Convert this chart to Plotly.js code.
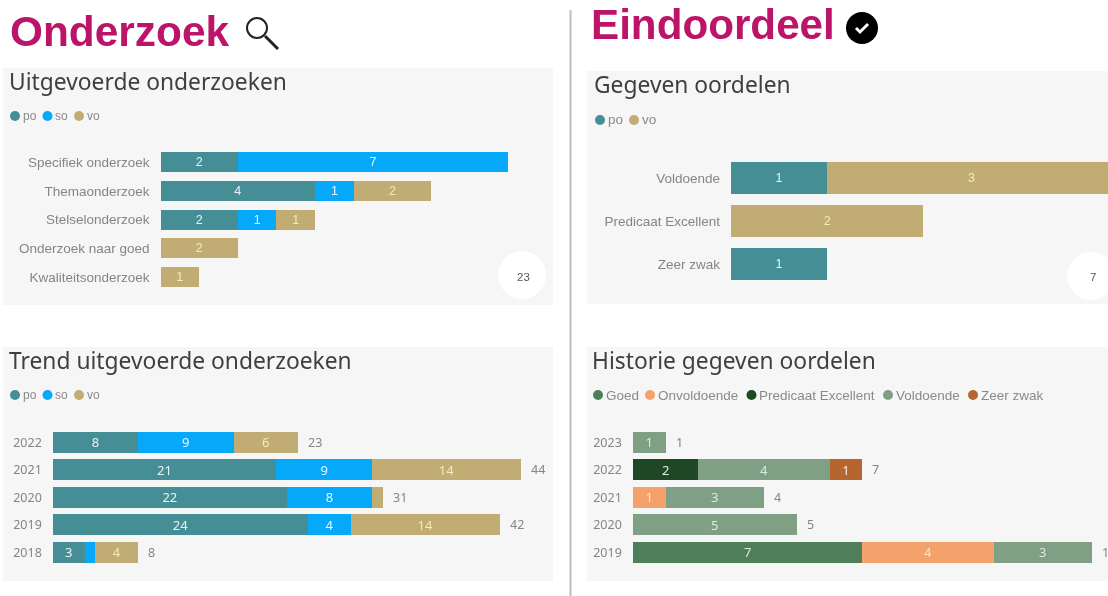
<!DOCTYPE html>
<html>
<head>
<meta charset="utf-8">
<script src="https://cdn.plot.ly/plotly-3.0.1.min.js"></script>
<style>html,body{margin:0;padding:0;background:#fff;overflow:hidden}#chart{width:1108px;height:596px;filter:blur(0.5px)}</style>
</head>
<body>
<div id="chart"></div>
<script>
const W = 1108, H = 596;

// Panel 1: Uitgevoerde onderzoeken
const typeCategories = ["Specifiek onderzoek", "Themaonderzoek", "Stelselonderzoek", "Onderzoek naar goed", "Kwaliteitsonderzoek"];
const typePo = [2, 4, 2, null, null];
const typeSo = [7, 1, 1, null, null];
const typeVo = [null, 2, 1, 2, 1];

// Panel 2: Gegeven oordelen
const verdictCategories = ["Voldoende", "Predicaat Excellent", "Zeer zwak"];
const verdictPo = [1, null, 1];
const verdictVo = [3, 2, null];

// Panel 3: Trend uitgevoerde onderzoeken
const trendYears = ["2022", "2021", "2020", "2019", "2018"];
const trendPo = [8, 21, 22, 24, 3];
const trendSo = [9, 9, 8, 4, 1];
const trendVo = [6, 14, 1, 14, 4];
const trendTotals = [23, 44, 31, 42, 8];

// Panel 4: Historie gegeven oordelen
const historyYears = ["2023", "2022", "2021", "2020", "2019"];
const historyGoed = [null, null, null, null, 7];
const historyOnvoldoende = [null, null, 1, null, 4];
const historyExcellent = [null, 2, null, null, null];
const historyVoldoende = [1, 4, 3, 5, 3];
const historyZeerZwak = [null, 1, null, null, null];
const historyTotals = [1, 7, 4, 5, 14];

const COLORS = {po:"#458E96", so:"#06A9FA", vo:"#C1AC74", Goed:"#4F7F59", Onvoldoende:"#F3A26B",
  "Predicaat Excellent":"#1E4725", Voldoende:"#7FA085", "Zeer zwak":"#B5652F"};
const LABEL = {po:"#E8F3F3", so:"#E8F6FF", vo:"#F6E8C0", Goed:"#DDE8DD", Onvoldoende:"#FBE3C8",
  "Predicaat Excellent":"#E3EDE3", Voldoende:"#DCE9DC", "Zeer zwak":"#FBEBDD"};

const px = x => x / W, py = y => 1 - y / H;
const UI = "'Noto Sans', sans-serif", AR = "'Liberation Sans', Arial, sans-serif";

const panels = [
  {id:"", cats:typeCategories, series:[["po",typePo],["so",typeSo],["vo",typeVo]], x0:160.5, unit:38.65, right:552,
   top:147.6, bottom:291.6, gap:0.31, font:AR, tick:13.5, standoff:10, lab:12.5, minPx:14},
  {id:"2", cats:verdictCategories, series:[["po",verdictPo],["vo",verdictVo]], x0:731, unit:96.2, right:1108,
   top:156.5, bottom:285.5, gap:0.25, font:AR, tick:13.5, standoff:10, lab:12.5, minPx:14},
  {id:"3", cats:trendYears, series:[["po",trendPo],["so",trendSo],["vo",trendVo]], totals:trendTotals, x0:52.8, unit:10.64, right:552,
   top:428.5, bottom:566, gap:0.24, font:UI, tick:12.5, standoff:10, lab:13, minPx:18},
  {id:"4", cats:historyYears, series:[["Goed",historyGoed],["Onvoldoende",historyOnvoldoende],["Predicaat Excellent",historyExcellent],["Voldoende",historyVoldoende],["Zeer zwak",historyZeerZwak]], totals:historyTotals, x0:632.8, unit:32.8, right:1108,
   top:428.5, bottom:566, gap:0.24, font:UI, tick:12.5, standoff:10, lab:13, minPx:18}
];

const traces = [];
const layout = {
  width:W, height:H, margin:{l:0,r:0,t:0,b:0,pad:0}, paper_bgcolor:"#fff", plot_bgcolor:"rgba(0,0,0,0)",
  barmode:"stack", showlegend:false, shapes:[], annotations:[], font:{family:AR,color:"#777"}
};

function note(text, x, y, size, color, family, weight) {
  layout.annotations.push({text, x:px(x), y:py(y), xref:"paper", yref:"paper", xanchor:"left", yanchor:"middle",
    showarrow:false, borderpad:0, font:{size, color, family, weight:weight||400}});
}
function rect(x0,y0,x1,y1,fill){layout.shapes.push({type:"rect",xref:"paper",yref:"paper",x0:px(x0),x1:px(x1),y0:py(y0),y1:py(y1),fillcolor:fill,line:{width:0},layer:"below"});}
function disc(cx,cy,r,fill,line,layer){layout.shapes.push({type:"circle",xref:"paper",yref:"paper",x0:px(cx-r),x1:px(cx+r),y0:py(cy-r),y1:py(cy+r),fillcolor:fill,line:line||{width:0},layer:layer||"below"});}
function seg(x0,y0,x1,y1,color,width){layout.shapes.push({type:"line",xref:"paper",yref:"paper",x0:px(x0),x1:px(x1),y0:py(y0),y1:py(y1),line:{color,width}});}

// panel backgrounds
rect(3,68,553,305,"#F6F6F6");
rect(587,71,1108,304,"#F6F6F6");
rect(3,347,553,581,"#F6F6F6");
rect(587,347,1108,581,"#F6F6F6");

// divider
seg(570.5,10,570.5,596,"#BDBDBD",2);

// section headings and icons
note("Onderzoek",9,31,42.4,"#BB1468",AR,700);
note("Eindoordeel",590,25,42.2,"#BB1468",AR,700);
disc(257,28,10,"rgba(0,0,0,0)",{color:"#222",width:2},"above");
seg(265,36,278,49,"#222",3);
disc(862,28,16,"#000",null,"above");
layout.shapes.push({type:"path",xref:"paper",yref:"paper",
  path:`M ${px(856)} ${py(28)} L ${px(860)} ${py(32)} L ${px(868)} ${py(24)}`,line:{color:"#fff",width:3}});

// panel titles
note("Uitgevoerde onderzoeken",8,82,22.8,"#3F3F3F",UI);
note("Gegeven oordelen",593,85,22.8,"#3F3F3F",UI);
note("Trend uitgevoerde onderzoeken",8,360,22.8,"#3F3F3F",UI);
note("Historie gegeven oordelen",591,360,22.8,"#3F3F3F",UI);

// legends
function legend(names, xs, y, size) {
  names.forEach((n,i)=>{ disc(xs[i],y,5,COLORS[n]); note(n,xs[i]+6.5,y,size,"#8A8A8A",AR); });
}
legend(["po","so","vo"],[15,47.5,79],116,12);
legend(["po","vo"],[600,634],120,13.5);
legend(["po","so","vo"],[15,47.5,79],395,12);
legend(["Goed","Onvoldoende","Predicaat Excellent","Voldoende","Zeer zwak"],[598,650,751.5,888,973],395,13.5);

// total circles
disc(522,275,24,"#fff");
note("23",516,277,11.5,"#555",AR);
disc(1091,276,24,"#fff");
note("7",1089,277,11.5,"#555",AR);

// bars
panels.forEach(p=>{
  const xa="x"+p.id, ya="y"+p.id, n=p.cats.length;
  const xKey="xaxis"+p.id, yKey="yaxis"+p.id;
  layout[xKey]={domain:[px(p.x0),px(p.right)],range:[0,(p.right-p.x0)/p.unit],anchor:ya,showticklabels:false,ticks:"",
    showgrid:false,zeroline:false,showline:false,fixedrange:true};
  layout[yKey]={domain:[py(p.bottom),py(p.top)],type:"category",categoryorder:"array",categoryarray:p.cats,
    range:[n-0.5,-0.5],anchor:xa,showgrid:false,zeroline:false,showline:false,ticks:"",ticklabelstandoff:p.standoff,
    tickfont:{family:p.font,size:p.tick,color:"#858585"},fixedrange:true,automargin:false};
  p.series.forEach(([name,vals])=>{
    traces.push({type:"bar",orientation:"h",name,x:vals,y:p.cats,xaxis:xa,yaxis:ya,
      width:1-p.gap,
      marker:{color:COLORS[name],line:{width:0}},
      text:vals.map(v=>(v!=null&&v*p.unit>=p.minPx)?String(v):""),
      textposition:"inside",insidetextanchor:"middle",textangle:0,constraintext:"none",cliponaxis:true,
      insidetextfont:{family:p.font,size:p.lab,color:LABEL[name]},hoverinfo:"x+y+name"});
  });
  (p.totals||[]).forEach((t,i)=>{
    layout.annotations.push({text:String(t),x:t,y:i,xref:xa,yref:ya,xanchor:"left",yanchor:"middle",
      xshift:9,showarrow:false,borderpad:0,font:{family:UI,size:12.5,color:"#858585"}});
  });
});

Plotly.newPlot("chart",traces,layout,{staticPlot:true,displayModeBar:false});
</script>
</body>
</html>
